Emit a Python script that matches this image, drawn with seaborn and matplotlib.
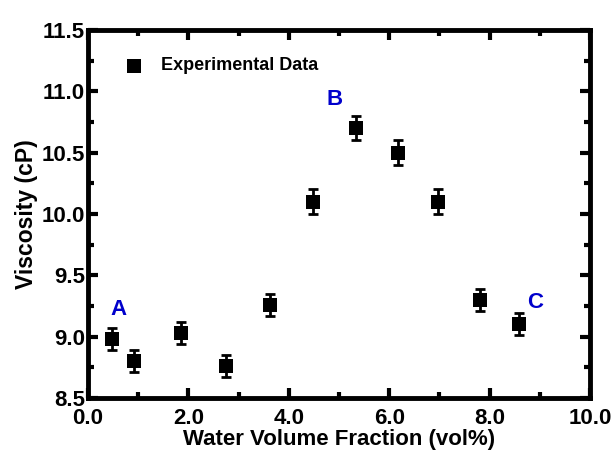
import matplotlib
matplotlib.use('Agg')
import pandas as pd
import matplotlib.pyplot as plt
from matplotlib.ticker import MultipleLocator, FormatStrFormatter
import seaborn as sns

# Values
water_fraction = [0.48, 0.92, 1.85, 2.75, 3.62, 4.48, 5.34, 6.18, 6.97, 7.80, 8.58]
viscosity = [8.98, 8.80, 9.03, 8.76, 9.26, 10.10, 10.70, 10.50, 10.10, 9.30, 9.10]
viscosity_err = [0.09, 0.09, 0.09, 0.09, 0.09, 0.10, 0.10, 0.10, 0.10, 0.09, 0.09]
point_labels = ['A', 'B', 'C']
label_x = [0.6, 4.92, 8.9]
label_y = [9.22, 10.93, 9.28]

df = pd.DataFrame({'fraction': water_fraction, 'viscosity': viscosity, 'err': viscosity_err})

sns.set_style('ticks')
plt.rcParams['font.family'] = ['Liberation Sans', 'DejaVu Sans']
plt.rcParams['font.weight'] = 'bold'
plt.rcParams['text.color'] = 'black'
plt.rcParams['axes.edgecolor'] = 'black'
plt.rcParams['axes.labelcolor'] = 'black'
plt.rcParams['xtick.color'] = 'black'
plt.rcParams['ytick.color'] = 'black'

fig = plt.figure(figsize=(6.14, 4.51), dpi=100)
ax = fig.add_axes([0.1433, 0.1175, 0.8177, 0.816])

ax.errorbar(df['fraction'], df['viscosity'], yerr=df['err'], fmt='none',
            ecolor='black', elinewidth=2, capsize=3.5, capthick=2, zorder=2)
sns.scatterplot(data=df, x='fraction', y='viscosity', marker='s', s=110,
                color='black', edgecolor='black', linewidth=0,
                label='Experimental Data', ax=ax, zorder=3)

for lab, lx, ly in zip(point_labels, label_x, label_y):
    ax.text(lx, ly, lab, color='#0000cc', fontsize=16, fontweight='bold',
            ha='center', va='center')

ax.set_xlim(0, 10)
ax.set_ylim(8.5, 11.5)
ax.xaxis.set_major_locator(MultipleLocator(2))
ax.xaxis.set_minor_locator(MultipleLocator(1))
ax.yaxis.set_major_locator(MultipleLocator(0.5))
ax.yaxis.set_minor_locator(MultipleLocator(0.25))
ax.xaxis.set_major_formatter(FormatStrFormatter('%.1f'))
ax.yaxis.set_major_formatter(FormatStrFormatter('%.1f'))

for sp in ax.spines.values():
    sp.set_visible(True)
    sp.set_linewidth(3.5)
    sp.set_color('black')
ax.tick_params(which='both', direction='in', top=True, right=True, width=3)
ax.tick_params(which='major', length=7, labelsize=16)
ax.tick_params(axis='x', which='major', pad=7)
ax.tick_params(axis='y', which='major', pad=2)
ax.tick_params(which='minor', length=4)
for t in ax.get_xticklabels() + ax.get_yticklabels():
    t.set_fontweight('bold')

ax.set_xlabel('Water Volume Fraction (vol%)', fontsize=16, fontweight='bold', labelpad=0)
ax.set_ylabel('Viscosity (cP)', fontsize=16.5, fontweight='bold', labelpad=3)

leg = ax.legend(loc='upper left', bbox_to_anchor=(0.024, 0.97), frameon=False,
                prop={'size': 13, 'weight': 'bold'}, handletextpad=0.45,
                markerscale=0.9)

fig.savefig('out.png', dpi=100)
